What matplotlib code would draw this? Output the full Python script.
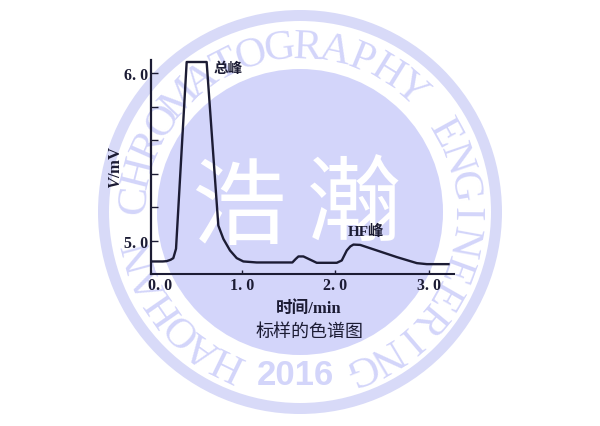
import numpy as np
import matplotlib
matplotlib.use("Agg")
import matplotlib.pyplot as plt
from matplotlib.patches import Circle

# values
t = [0.025, 0.150, 0.193, 0.235, 0.264, 0.293, 0.407, 0.621, 0.746, 0.80, 0.871, 0.943, 1.014, 1.157,
     1.539, 1.575, 1.604, 1.657, 1.80, 2.015, 2.068, 2.122, 2.160, 2.193, 2.265, 2.443, 2.658, 2.872,
     2.979, 3.211]
v = [4.875, 4.875, 4.877, 4.885, 4.895, 4.951, 6.068, 6.068, 5.09, 5.01, 4.941, 4.895, 4.875, 4.869,
     4.869, 4.890, 4.905, 4.905, 4.867, 4.867, 4.881, 4.941, 4.965, 4.976, 4.974, 4.941, 4.901, 4.865,
     4.859, 4.859]
x_ticks = [0, 1, 2, 3]
x_labels = ["0. 0", "1. 0", "2. 0", "3. 0"]
y_major = [5.0, 6.0]
y_labels = ["5. 0", "6. 0"]
y_minor = [5.2, 5.4, 5.6, 5.8]

W, H = 600, 427
LAV = "#d3d5fa"
RING = "#d8daf8"
INK = "#1c1c34"
SERIF = ["Liberation Serif", "Noto Sans CJK SC"]
CJK = ["Noto Sans CJK SC", "DejaVu Sans"]

plt.rcParams["mathtext.fontset"] = "custom"
plt.rcParams["mathtext.it"] = "Liberation Serif:italic:bold"

fig = plt.figure(figsize=(W / 100, H / 100), dpi=100, facecolor="white")

# watermark in pixel coordinates
bg = fig.add_axes([0, 0, 1, 1], zorder=0)
bg.set_xlim(0, W)
bg.set_ylim(H, 0)
bg.axis("off")
cx, cy = 300, 213
bg.add_patch(Circle((cx, cy), 202, fc=RING, ec="none"))
bg.add_patch(Circle((cx, cy), 191, fc="white", ec="none"))
bg.add_patch(Circle((cx, cy), 143, fc=LAV, ec="none"))


def arc_text(s, start, step, r, size):
    # angles in degrees clockwise from the top
    for i, ch in enumerate(s):
        a = start + i * step
        rad = np.radians(a)
        bg.text(cx + r * np.sin(rad), cy - r * np.cos(rad), ch, rotation=-a, rotation_mode="anchor",
                ha="center", va="center", family="Liberation Serif", fontsize=size, color=LAV)


arc_text("HAOHAN CHROMATOGRAPHY ENGINEERING", -154, 9.78, 165, 31)
bg.text(295, 376, "2016", ha="center", va="center", family="Liberation Sans", fontsize=25,
        fontweight="bold", color=LAV)
bg.text(238, 210, "浩", ha="center", va="center", family=CJK, fontsize=68, color="white")
bg.text(354, 207, "瀚", ha="center", va="center", family=CJK, fontsize=68, color="white")

# chart
ax = fig.add_axes([151 / W, 1 - 275 / H, (454 - 151) / W, (275 - 61) / H], zorder=1)
ax.patch.set_alpha(0)
ax.plot(t, v, color=INK, lw=1.7)
ax.set_xlim(0.025, 3.27)
ax.set_ylim(4.80, 6.08)
for side in ["top", "right"]:
    ax.spines[side].set_visible(False)
ax.spines["left"].set_linewidth(1.6)
ax.spines["bottom"].set_linewidth(1.5)
ax.spines["left"].set_color(INK)
ax.spines["bottom"].set_color(INK)
ax.set_xticks(x_ticks[1:])
ax.set_xticklabels([])
ax.set_yticks(y_major)
ax.set_yticks(y_minor, minor=True)
ax.set_yticklabels(y_labels, family="Liberation Serif", fontsize=11.5, fontweight="bold", color=INK)
ax.tick_params(axis="y", which="both", direction="in", length=5, width=1, pad=2, color=INK)
ax.tick_params(axis="x", direction="in", length=3, width=1, color=INK)

for x, lab in zip(x_ticks, x_labels):
    # the 0.0 label sits right of the axis corner
    shift = 8 if x == 0 else 0
    ax.annotate(lab, (x, 4.80), xytext=(shift, -2), textcoords="offset points", ha="center", va="top",
                family="Liberation Serif", fontsize=11.5, fontweight="bold", color=INK,
                annotation_clip=False)

bg.text(116, 167, r"$\mathit{V}$/mV", rotation=90, ha="center", va="center", family="Liberation Serif",
        fontsize=12, fontweight="bold", color=INK)
bg.text(228, 68, "总峰", ha="center", va="center", family=CJK, fontsize=10.5, fontweight="bold", color=INK)
bg.text(366, 232, "HF峰", ha="center", va="center", family=SERIF, fontsize=11, fontweight="bold", color=INK)
bg.text(309, 309, "时间/min", ha="center", va="center", family=SERIF, fontsize=12, fontweight="bold", color=INK)
bg.text(310, 332, "标样的色谱图", ha="center", va="center", family=CJK, fontsize=13, color=INK)

fig.savefig("out.png", dpi=100)
